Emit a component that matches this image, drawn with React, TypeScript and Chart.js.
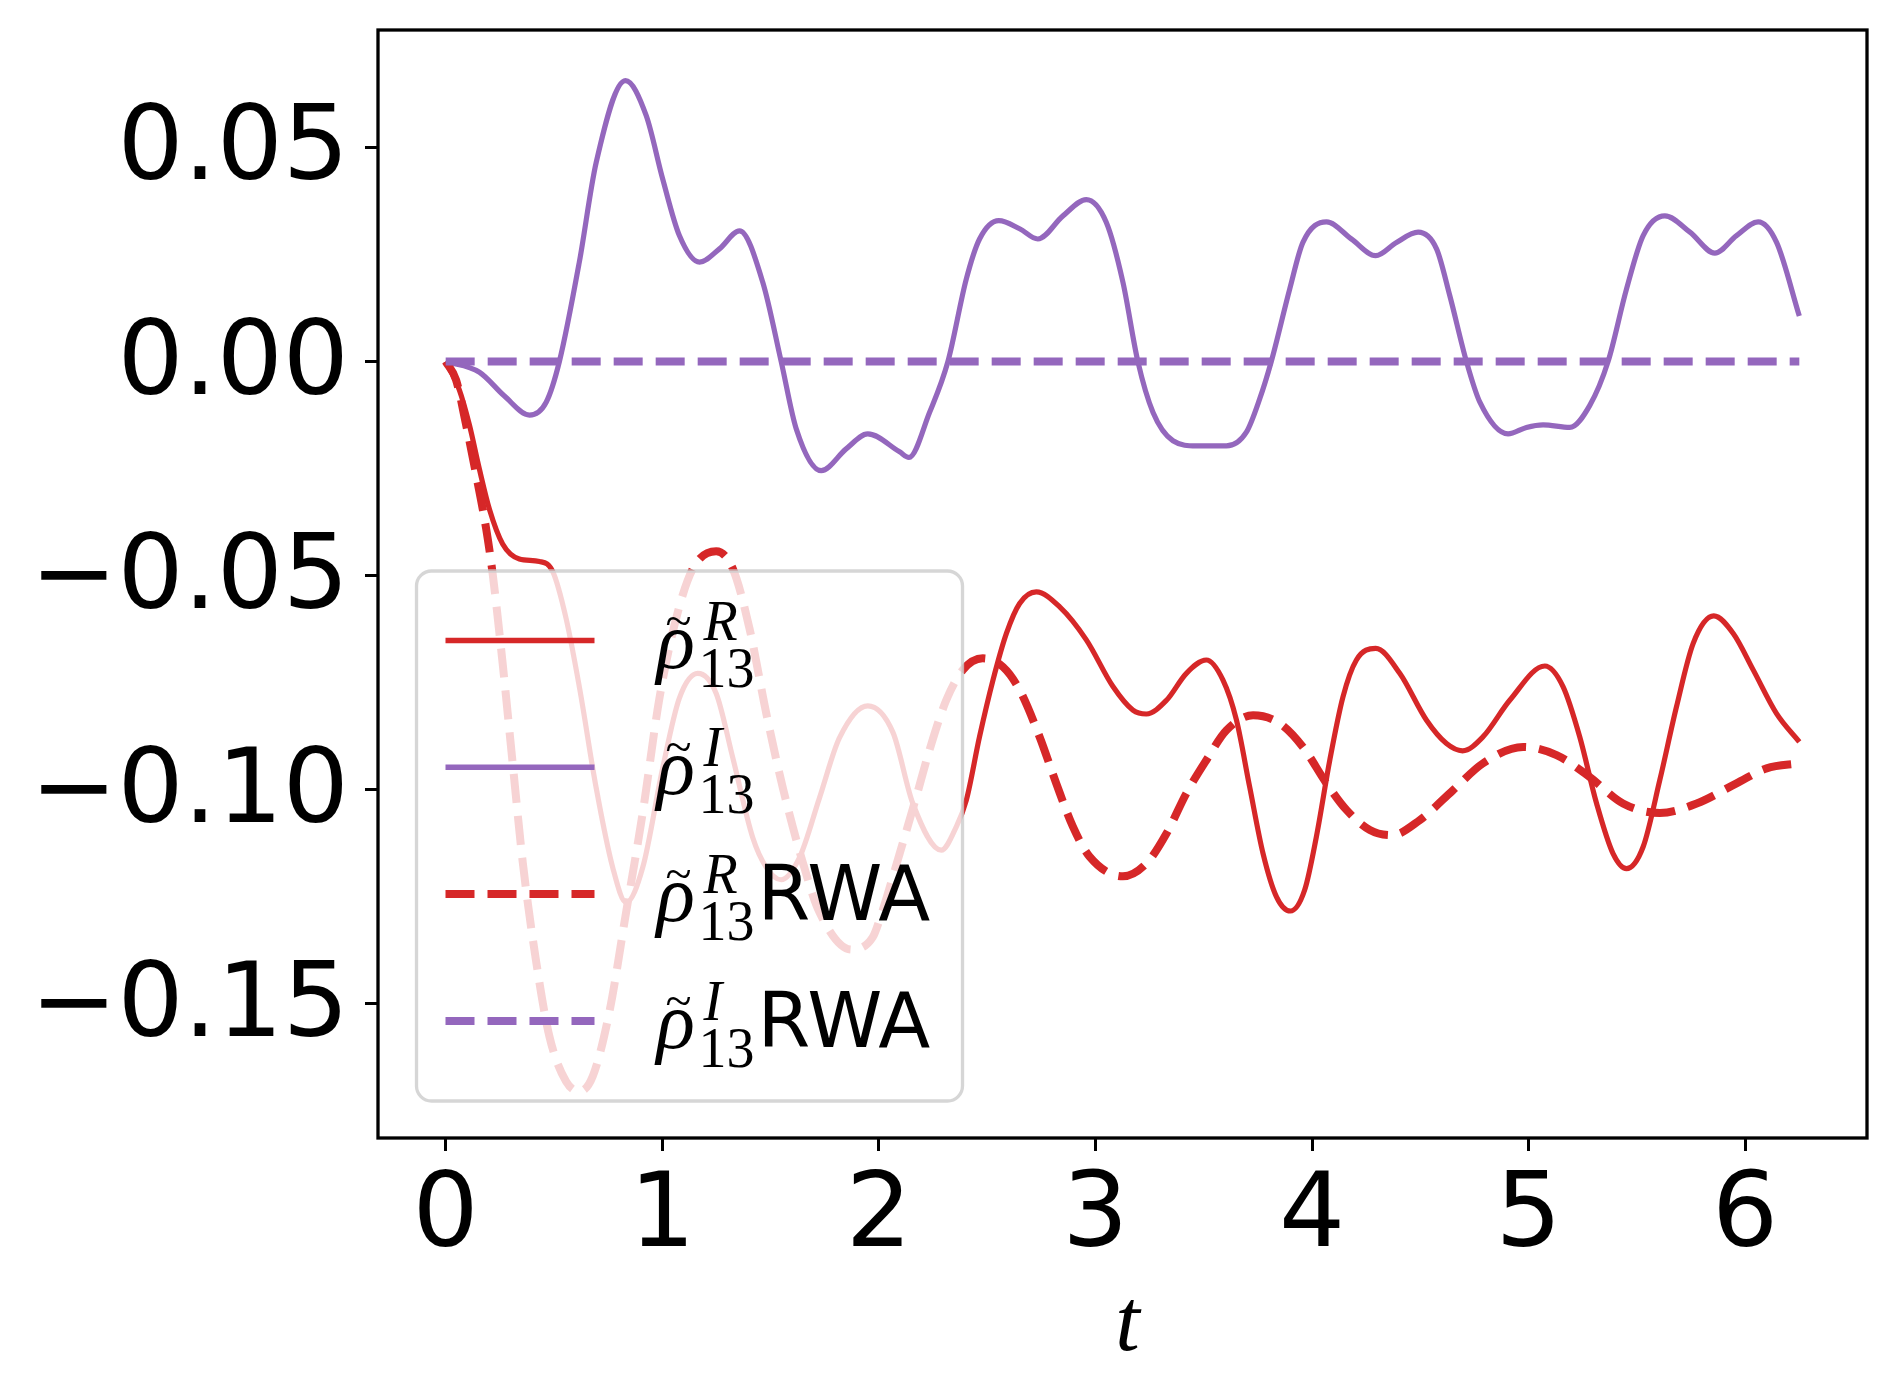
import { useEffect, useRef } from "react";
import { Chart, registerables } from "chart.js";

Chart.register(...registerables);

// Real part (full model)
const tR = [
  0, 0.063, 0.109, 0.156, 0.202, 0.263, 0.34, 0.433, 0.494, 0.556, 0.618, 0.695, 0.771, 0.833, 0.91,
  1.002, 1.079, 1.164, 1.249, 1.326, 1.418, 1.48, 1.549, 1.634, 1.726, 1.818, 1.949, 2.065, 2.157,
  2.288, 2.358, 2.404, 2.465, 2.527, 2.589, 2.65, 2.727, 2.835, 2.958, 3.081, 3.173, 3.235, 3.328,
  3.42, 3.512, 3.589, 3.651, 3.712, 3.774, 3.836, 3.9, 3.966, 4.02, 4.082, 4.143, 4.205, 4.294, 4.405,
  4.528, 4.621, 4.695, 4.79, 4.913, 5.075, 5.159, 5.236, 5.314, 5.39, 5.452, 5.529, 5.606, 5.683,
  5.76, 5.855, 5.945, 6.037, 6.145, 6.25,
];
const rhoR = [
  0, -0.0066, -0.0147, -0.0252, -0.0345, -0.0426, -0.0461, -0.0467, -0.049, -0.06, -0.0762, -0.0996,
  -0.1181, -0.1263, -0.1181, -0.0949, -0.0786, -0.0728, -0.0775, -0.0926, -0.1112, -0.1181, -0.121,
  -0.1158, -0.1019, -0.0879, -0.0804, -0.0866, -0.1032, -0.1141, -0.1086, -0.1024, -0.0876, -0.0744,
  -0.0635, -0.0565, -0.0538, -0.0573, -0.065, -0.0759, -0.0814, -0.0823, -0.0791, -0.0728, -0.0697,
  -0.0744, -0.0837, -0.0993, -0.1149, -0.125, -0.1283, -0.1234, -0.111, -0.0931, -0.0783, -0.0697,
  -0.067, -0.0728, -0.0837, -0.0892, -0.0909, -0.0876, -0.0791, -0.0711, -0.0759, -0.0876, -0.1032,
  -0.1149, -0.1184, -0.1133, -0.0977, -0.0806, -0.0658, -0.0594, -0.0635, -0.072, -0.0822, -0.0888,
];

// Imaginary part (full model)
const tI = [
  0, 0.156, 0.27, 0.387, 0.464, 0.525, 0.617, 0.695, 0.83, 0.926, 1.002, 1.079, 1.172, 1.264, 1.357,
  1.464, 1.549, 1.619, 1.734, 1.849, 1.949, 2.096, 2.139, 2.234, 2.319, 2.404, 2.465, 2.554, 2.65,
  2.734, 2.85, 2.958, 3.05, 3.127, 3.196, 3.266, 3.358, 3.466, 3.605, 3.697, 3.758, 3.812, 3.897,
  3.958, 4.067, 4.182, 4.294, 4.39, 4.49, 4.575, 4.636, 4.713, 4.775, 4.905, 4.99, 5.067, 5.19, 5.282,
  5.367, 5.452, 5.529, 5.629, 5.745, 5.86, 5.96, 6.06, 6.145, 6.25,
];
const rhoI = [
  0, -0.0025, -0.008, -0.0125, -0.0095, 0, 0.0232, 0.0465, 0.0656, 0.0574, 0.0426, 0.0294, 0.0232,
  0.0263, 0.0305, 0.0185, 0, -0.0158, -0.0255, -0.0204, -0.0169, -0.0211, -0.0224, -0.0119, 0, 0.0193,
  0.0286, 0.0329, 0.031, 0.0286, 0.034, 0.0378, 0.0325, 0.0185, 0, -0.0119, -0.0185, -0.0197, -0.0197,
  -0.0165, -0.0088, 0, 0.0169, 0.0278, 0.0326, 0.0286, 0.0247, 0.0278, 0.0302, 0.0263, 0.0154, 0,
  -0.0095, -0.0169, -0.0154, -0.0148, -0.0154, -0.0103, 0, 0.0169, 0.0294, 0.034, 0.0302, 0.0253,
  0.0294, 0.0326, 0.0278, 0.0106,
];

// Real part (RWA)
const tRwaR = [
  0, 0.048, 0.094, 0.14, 0.187, 0.217, 0.263, 0.309, 0.356, 0.418, 0.479, 0.556, 0.618, 0.679, 0.756,
  0.833, 0.91, 0.987, 1.064, 1.141, 1.249, 1.326, 1.403, 1.48, 1.557, 1.649, 1.726, 1.873, 1.972,
  2.003, 2.096, 2.173, 2.234, 2.311, 2.388, 2.48, 2.573, 2.65, 2.742, 2.819, 2.896, 2.973, 3.127,
  3.235, 3.328, 3.42, 3.512, 3.605, 3.728, 3.851, 3.958, 4.067, 4.159, 4.267, 4.368, 4.497, 4.651,
  4.79, 4.975, 5.129, 5.282, 5.436, 5.606, 5.776, 5.96, 6.099, 6.25,
];
const rhoRwaR = [
  0, -0.0043, -0.0147, -0.0263, -0.0391, -0.0496, -0.0705, -0.0937, -0.117, -0.1402, -0.1576, -0.1681,
  -0.1704, -0.1669, -0.1518, -0.1286, -0.1053, -0.0786, -0.06, -0.0484, -0.0443, -0.0484, -0.0624,
  -0.0821, -0.0996, -0.117, -0.1286, -0.1373, -0.1344, -0.1304, -0.1149, -0.1016, -0.0907, -0.0791,
  -0.072, -0.0693, -0.0713, -0.0767, -0.0876, -0.0985, -0.1086, -0.1156, -0.1202, -0.1172, -0.1102,
  -0.1008, -0.0931, -0.0861, -0.0826, -0.0845, -0.09, -0.0985, -0.1047, -0.1094, -0.1106, -0.1071,
  -0.1001, -0.0938, -0.09, -0.0919, -0.097, -0.1032, -0.1054, -0.1032, -0.0985, -0.095, -0.0938,
];

// Imaginary part (RWA)
const tRwaI = [0, 6.25];
const rhoRwaI = [0, 0];

// Axes
const xTicks = [0, 1, 2, 3, 4, 5, 6];
const yTicks = [-0.15, -0.1, -0.05, 0, 0.05];
const xMin = -0.3125;
const xMax = 6.5625;
const yMin = -0.1813;
const yMax = 0.0774;

// Legend text pieces
const legendSup = ["R", "I", "R", "I"];
const legendSuffix = ["", "", "RWA", "RWA"];

const RED = "#d62728";
const PURPLE = "#9467bd";
const DASH = [29, 13];

const toPoints = (xs: number[], ys: number[]) => xs.map((x, i) => ({ x, y: ys[i] }));

// Legend box drawn over the lines, like matplotlib's translucent frame
const legendPlugin = {
  id: "boxLegend",
  afterDatasetsDraw(chart: any) {
    const { ctx, chartArea } = chart;
    const w = 546;
    const h = 530;
    const x0 = chartArea.left + 38.5;
    const y0 = chartArea.bottom - 37 - h;
    ctx.save();
    ctx.beginPath();
    ctx.roundRect(x0, y0, w, h, 15);
    ctx.fillStyle = "rgba(255, 255, 255, 0.8)";
    ctx.fill();
    ctx.lineWidth = 3.3;
    ctx.strokeStyle = "rgba(204, 204, 204, 0.8)";
    ctx.stroke();

    chart.data.datasets.forEach((ds: any, i: number) => {
      const cy = y0 + 69.5 + i * 126.8;
      ctx.beginPath();
      ctx.setLineDash(ds.borderDash || []);
      ctx.lineCap = "butt";
      ctx.lineWidth = ds.borderDash ? ds.borderWidth : 5.5;
      ctx.strokeStyle = ds.borderColor;
      ctx.moveTo(x0 + 29, cy);
      ctx.lineTo(x0 + 178, cy);
      ctx.stroke();
      ctx.setLineDash([]);

      ctx.fillStyle = "#000";
      ctx.textBaseline = "alphabetic";
      ctx.textAlign = "left";
      ctx.font = "italic 80px 'Liberation Serif'";
      ctx.fillText("\u03c1", x0 + 240, cy + 27);
      ctx.font = "48px 'Liberation Serif'";
      ctx.fillText("~", x0 + 249, cy - 4);
      ctx.font = "italic 56px 'Liberation Serif'";
      ctx.fillText(legendSup[i], x0 + 287, cy - 1);
      ctx.font = "56px 'Liberation Serif'";
      ctx.fillText("13", x0 + 282, cy + 46);
      if (legendSuffix[i]) {
        ctx.font = "76px 'DejaVu Sans'";
        ctx.fillText(legendSuffix[i], x0 + 341, cy + 26);
      }
    });
    ctx.restore();
  },
};

// Full box around the plot and the x axis label
const framePlugin = {
  id: "frame",
  afterDraw(chart: any) {
    const { ctx, chartArea: a } = chart;
    ctx.save();
    ctx.lineWidth = 3.3;
    ctx.strokeStyle = "#000";
    ctx.strokeRect(a.left, a.top, a.right - a.left, a.bottom - a.top);
    ctx.fillStyle = "#000";
    ctx.textAlign = "center";
    ctx.textBaseline = "alphabetic";
    ctx.font = "italic 88px 'Liberation Serif'";
    ctx.fillText("t", (a.left + a.right) / 2 + 5, a.bottom + 212);
    ctx.restore();
  },
};

const noPadding = (s: any) => {
  s.paddingTop = 0;
  s.paddingBottom = 0;
  s.paddingLeft = 0;
  s.paddingRight = 0;
};

export default function App() {
  const canvasRef = useRef<HTMLCanvasElement | null>(null);
  const chartRef = useRef<Chart | null>(null);

  useEffect(() => {
    if (chartRef.current) {
      chartRef.current.destroy();
      chartRef.current = null;
    }
    const canvas = canvasRef.current;
    if (!canvas) return;

    const tickFont = { family: "'DejaVu Sans'", size: 104, lineHeight: 1 };

    chartRef.current = new Chart(canvas, {
      type: "line",
      data: {
        datasets: [
          {
            label: "rho13 R",
            data: toPoints(tR, rhoR),
            borderColor: RED,
            borderWidth: 5.2,
            order: 4,
          },
          {
            label: "rho13 I",
            data: toPoints(tI, rhoI),
            borderColor: PURPLE,
            borderWidth: 5.2,
            order: 3,
          },
          {
            label: "rho13 R RWA",
            data: toPoints(tRwaR, rhoRwaR),
            borderColor: RED,
            borderWidth: 8,
            borderDash: DASH,
            order: 2,
          },
          {
            label: "rho13 I RWA",
            data: toPoints(tRwaI, rhoRwaI),
            borderColor: PURPLE,
            borderWidth: 8,
            borderDash: DASH,
            order: 1,
          },
        ] as any,
      },
      options: {
        animation: false,
        responsive: true,
        maintainAspectRatio: false,
        layout: { padding: { top: 30, right: 29, left: 0, bottom: 0 } },
        elements: {
          point: { radius: 0, hoverRadius: 0 },
          line: { cubicInterpolationMode: "monotone", borderJoinStyle: "round", fill: false },
        },
        plugins: {
          legend: { display: false },
          tooltip: { enabled: false },
        },
        scales: {
          x: {
            type: "linear",
            min: xMin,
            max: xMax,
            afterBuildTicks: (s: any) => {
              s.ticks = xTicks.map((v) => ({ value: v }));
            },
            afterFit: (s: any) => {
              s.height = 258;
              noPadding(s);
            },
            border: { display: false },
            grid: {
              drawOnChartArea: false,
              drawTicks: true,
              tickLength: 13,
              tickWidth: 3,
              tickColor: "#000",
            },
            ticks: {
              color: "#000",
              font: tickFont,
              padding: 16,
              maxRotation: 0,
              autoSkip: false,
              callback: (v: any) => String(v),
            },
          },
          y: {
            type: "linear",
            min: yMin,
            max: yMax,
            afterBuildTicks: (s: any) => {
              s.ticks = yTicks.map((v) => ({ value: v }));
            },
            afterFit: (s: any) => {
              s.width = 378;
              noPadding(s);
            },
            border: { display: false },
            grid: {
              drawOnChartArea: false,
              drawTicks: true,
              tickLength: 13,
              tickWidth: 3,
              tickColor: "#000",
            },
            ticks: {
              color: "#000",
              font: tickFont,
              padding: 16,
              labelOffset: 5,
              autoSkip: false,
              callback: (v: any) => (v < 0 ? "\u2212" : "") + Math.abs(v).toFixed(2),
            },
          },
        },
      },
      plugins: [legendPlugin, framePlugin],
    } as any);

    return () => {
      chartRef.current?.destroy();
      chartRef.current = null;
    };
  }, []);

  return (
    <div
      style={{
        position: "fixed",
        left: 0,
        top: 0,
        width: 1896,
        height: 1396,
        background: "#ffffff",
      }}
    >
      <canvas ref={canvasRef} />
    </div>
  );
}
